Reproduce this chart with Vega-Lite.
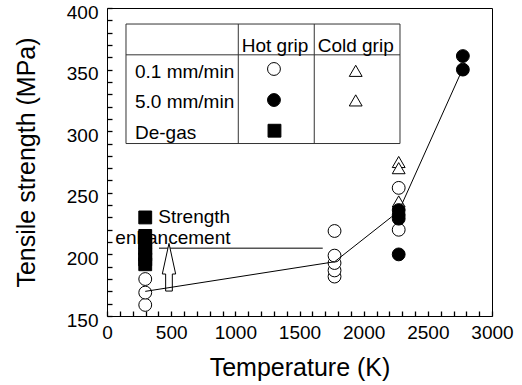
{
  "$schema": "https://vega.github.io/schema/vega-lite/v6.json",
  "width": 385,
  "height": 308,
  "autosize": "none",
  "padding": {"left": 107, "top": 8, "right": 30, "bottom": 69},
  "config": {
    "font": "Liberation Sans",
    "view": {"stroke": "black", "strokeWidth": 1},
    "axis": {"grid": false}
  },
  "encoding": {
    "x": {
      "field": "T", "type": "quantitative",
      "scale": {"domain": [0, 3000], "nice": false, "zero": false},
      "axis": {
        "title": "Temperature (K)",
        "values": [0,100,200,300,400,500,600,700,800,900,1000,1100,1200,1300,1400,1500,1600,1700,1800,1900,2000,2100,2200,2300,2400,2500,2600,2700,2800,2900,3000],
        "format": "d",
        "labelExpr": "datum.value % 500 === 0 ? datum.label : ''",
        "labelOverlap": false, "labelFlush": false,
        "labelFontSize": 19, "labelColor": "black", "labelPadding": 7,
        "offset": -5, "domain": false,
        "ticks": true, "tickSize": 5, "tickWidth": 1.3, "tickColor": "black",
        "titleFontSize": 25, "titleFontWeight": "normal", "titleColor": "black", "titlePadding": 13
      }
    },
    "y": {
      "field": "S", "type": "quantitative",
      "scale": {"domain": [150, 400], "nice": false, "zero": false},
      "axis": {
        "title": "Tensile strength (MPa)",
        "values": [150,160,170,180,190,200,210,220,230,240,250,260,270,280,290,300,310,320,330,340,350,360,370,380,390,400],
        "format": "d",
        "labelExpr": "datum.value % 50 === 0 ? datum.label : ''",
        "labelOverlap": false, "labelFlush": false,
        "labelFontSize": 19, "labelColor": "black", "labelPadding": 9, "labelOffset": 4,
        "offset": -5, "domain": false,
        "ticks": true, "tickSize": 5, "tickWidth": 1.3, "tickColor": "black",
        "titleFontSize": 25, "titleFontWeight": "normal", "titleColor": "black", "titlePadding": 27
      }
    }
  },
  "layer": [
    {
      "data": {"values": [{"T": 148, "T2": 2283, "S": 290, "S2": 387}]},
      "mark": {"type": "rect", "fill": "white", "stroke": "#333", "strokeWidth": 1},
      "encoding": {"x2": {"field": "T2"}, "y2": {"field": "S2"}}
    },
    {
      "data": {"values": [
        {"T": 148, "T2": 2283, "S": 362, "S2": 362},
        {"T": 1023, "T2": 1023, "S": 290, "S2": 387},
        {"T": 1615, "T2": 1615, "S": 290, "S2": 387}
      ]},
      "mark": {"type": "rule", "color": "#333", "strokeWidth": 1},
      "encoding": {"x2": {"field": "T2"}, "y2": {"field": "S2"}}
    },
    {
      "data": {"values": [
        {"T": 1309, "S": 364.5, "label": "Hot grip"},
        {"T": 1938, "S": 364.5, "label": "Cold grip"}
      ]},
      "mark": {"type": "text", "fontSize": 19, "align": "center", "baseline": "alphabetic", "color": "black"},
      "encoding": {"text": {"field": "label"}}
    },
    {
      "data": {"values": [
        {"T": 218, "S": 342.9, "label": "0.1 mm/min"},
        {"T": 218, "S": 318.6, "label": "5.0 mm/min"},
        {"T": 218, "S": 294, "label": "De-gas"},
        {"T": 400, "S": 225.2, "label": "Strength"},
        {"T": 65, "S": 208.7, "label": "enhancement"}
      ]},
      "mark": {"type": "text", "fontSize": 19, "align": "left", "baseline": "alphabetic", "color": "black"},
      "encoding": {"text": {"field": "label"}}
    },
    {
      "data": {"values": [{"T": 405, "T2": 1681, "S": 205, "S2": 205}]},
      "mark": {"type": "rule", "color": "#555", "strokeWidth": 1.3},
      "encoding": {"x2": {"field": "T2"}, "y2": {"field": "S2"}}
    },
    {
      "data": {"values": [{"T": 483, "S": 189.6}]},
      "mark": {"type": "point", "shape": "M0,-1L0.28,0.285L0.14,0.285L0.14,1L-0.14,1L-0.14,0.285L-0.28,0.285Z", "size": 2275, "filled": true, "fill": "white", "stroke": "black", "strokeWidth": 1, "opacity": 1}
    },
    {
      "data": {"values": [
        {"T": 298, "S": 159, "group": "hot01"},
        {"T": 298, "S": 169, "group": "hot01"},
        {"T": 298, "S": 180, "group": "hot01"},
        {"T": 298, "S": 192, "group": "degas"},
        {"T": 298, "S": 196, "group": "degas"},
        {"T": 298, "S": 200, "group": "degas"},
        {"T": 298, "S": 205, "group": "degas"},
        {"T": 298, "S": 210, "group": "degas"},
        {"T": 298, "S": 215, "group": "degas"},
        {"T": 298, "S": 230, "group": "degas"},
        {"T": 1773, "S": 182, "group": "hot01"},
        {"T": 1773, "S": 187, "group": "hot01"},
        {"T": 1773, "S": 193, "group": "hot01"},
        {"T": 1773, "S": 199, "group": "hot01"},
        {"T": 1773, "S": 219, "group": "hot01"},
        {"T": 2273, "S": 275, "group": "cold"},
        {"T": 2273, "S": 270, "group": "cold"},
        {"T": 2273, "S": 243, "group": "cold"},
        {"T": 2273, "S": 254, "group": "hot01"},
        {"T": 2273, "S": 220, "group": "hot01"},
        {"T": 2273, "S": 236, "group": "hot50"},
        {"T": 2273, "S": 232, "group": "hot50"},
        {"T": 2273, "S": 229, "group": "hot50"},
        {"T": 2273, "S": 200, "group": "hot50"},
        {"T": 2773, "S": 361, "group": "hot50"},
        {"T": 2773, "S": 350, "group": "hot50"},
        {"T": 1301, "S": 350.5, "group": "hot01"},
        {"T": 1301, "S": 325.3, "group": "hot50"},
        {"T": 1305, "S": 300.4, "group": "degas"},
        {"T": 1938, "S": 349, "group": "cold"},
        {"T": 1938, "S": 325, "group": "cold"}
      ]},
      "mark": {"type": "point", "filled": true, "stroke": "black", "strokeWidth": 1, "size": 165, "opacity": 1},
      "encoding": {
        "shape": {"field": "group", "type": "nominal", "legend": null,
          "scale": {"domain": ["hot01", "hot50", "degas", "cold"], "range": ["circle", "circle", "square", "triangle-up"]}},
        "fill": {"field": "group", "type": "nominal", "legend": null,
          "scale": {"domain": ["hot01", "hot50", "degas", "cold"], "range": ["white", "black", "black", "white"]}}
      }
    },
    {
      "data": {"values": [
        {"T": 298, "S": 170},
        {"T": 1773, "S": 194},
        {"T": 2273, "S": 235},
        {"T": 2773, "S": 351}
      ]},
      "mark": {"type": "line", "color": "black", "strokeWidth": 1},
      "encoding": {}
    }
  ]
}
